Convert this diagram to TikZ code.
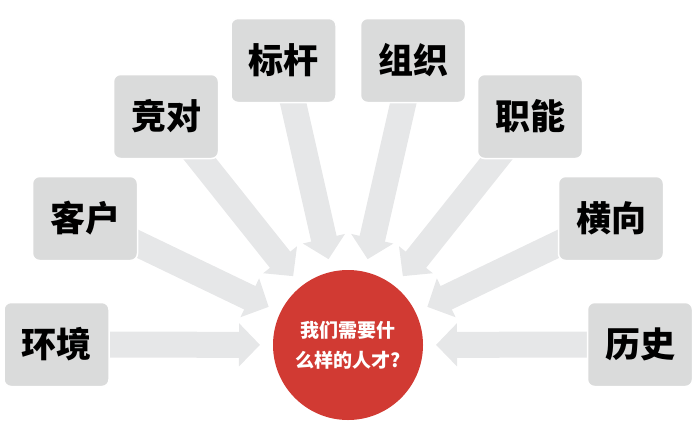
\documentclass[tikz,border=0pt]{standalone}
\usepackage{fontspec}
\newfontfamily\cjk{Noto Sans CJK SC}
\usetikzlibrary{arrows.meta,calc}
\definecolor{boxgray}{HTML}{DADBDB}
\definecolor{arrowgray}{HTML}{E6E7E8}
\definecolor{hubred}{HTML}{D13A33}
\tikzset{
  topic/.style={rectangle, rounded corners=7pt, fill=boxgray, draw=white, line width=1.5pt,
    minimum width=105pt, minimum height=84pt, inner sep=0pt,
    font=\cjk\bfseries\fontsize{35}{40}\selectfont, text=black},
  hub/.style={circle, fill=hubred, minimum size=150pt, inner sep=0pt, align=center,
    font=\cjk\bfseries\fontsize{19}{30}\selectfont, text=white},
  blockarrow/.style={draw=arrowgray, line width=26pt,
    -{Triangle[width=42pt,length=21pt]}}
}
\begin{document}
\begin{tikzpicture}[x=1pt,y=-1pt]
\useasboundingbox (0,0) rectangle (700,426);
\coordinate (c) at (348,345);
% box centre coordinates
\coordinate (pHJ) at (56.5,344.5);
\coordinate (pKH) at (85,218.5);
\coordinate (pJD) at (166,116.5);
\coordinate (pBG) at (283.5,60.5);
\coordinate (pZZ) at (413,60.5);
\coordinate (pZN) at (530,116.5);
\coordinate (pHX) at (611,218.5);
\coordinate (pLS) at (640,344.5);
% arrow tips
\foreach \p in {HJ,KH,JD,BG,ZZ,ZN,HX,LS}{
  \coordinate (t\p) at ($(c)!88pt!(p\p)$);
}
\foreach \p in {HJ,KH,JD,BG,ZZ,ZN,HX,LS}{
  \draw[blockarrow] (p\p) -- (t\p);
}
\node[topic] (hj) at (pHJ) {环境};
\node[topic] (kh) at (pKH) {客户};
\node[topic] (jd) at (pJD) {竞对};
\node[topic] (bg) at (pBG) {标杆};
\node[topic] (zz) at (pZZ) {组织};
\node[topic] (zn) at (pZN) {职能};
\node[topic] (hx) at (pHX) {横向};
\node[topic] (ls) at (pLS) {历史};
\node[hub] (hub) at (c) {我们需要什\\么样的人才?};
\end{tikzpicture}
\end{document}
